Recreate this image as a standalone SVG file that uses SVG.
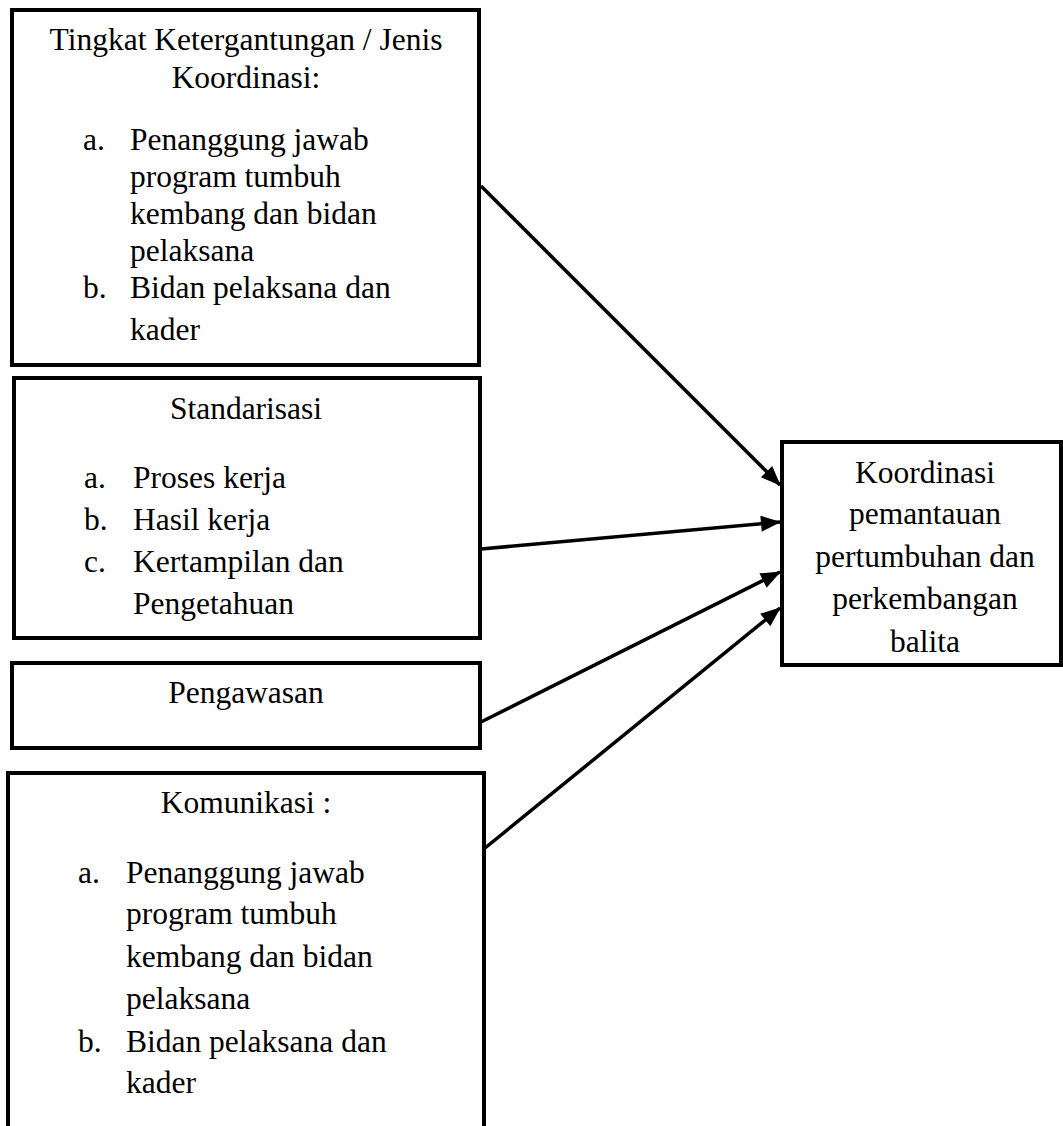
<svg xmlns="http://www.w3.org/2000/svg" width="1063" height="1126" viewBox="0 0 1063 1126">
<style>
.box{fill:#fff;stroke:#000;stroke-width:4}
text{font-family:"Liberation Serif","Times New Roman",serif;font-size:31.5px;fill:#000}
.c{text-anchor:middle}
.conn line{stroke:#000;stroke-width:3.5}
</style>
<defs>
<marker id="ah" viewBox="0 0 20 16" refX="19" refY="8" markerWidth="20" markerHeight="16" markerUnits="userSpaceOnUse" orient="auto" overflow="visible">
<path d="M0,0 L20,8 L0,16 z" fill="#000"/>
</marker>
</defs>
<rect width="1063" height="1126" fill="#fff"/>
<g id="n1">
<rect class="box" x="12" y="10" width="467" height="355"/>
<text class="c" x="246" y="50">Tingkat Ketergantungan / Jenis</text>
<text class="c" x="246" y="88">Koordinasi:</text>
<text x="83" y="150">a.</text><text x="130" y="150">Penanggung jawab</text>
<text x="130" y="187">program tumbuh</text>
<text x="130" y="224">kembang dan bidan</text>
<text x="130" y="261">pelaksana</text>
<text x="83" y="298">b.</text><text x="130" y="298">Bidan pelaksana dan</text>
<text x="130" y="340">kader</text>
</g>
<g id="n2">
<rect class="box" x="14" y="378" width="466" height="260"/>
<text class="c" x="246" y="419">Standarisasi</text>
<text x="84" y="488">a.</text><text x="133" y="488">Proses kerja</text>
<text x="84" y="530">b.</text><text x="133" y="530">Hasil kerja</text>
<text x="84" y="572">c.</text><text x="133" y="572">Kertampilan dan</text>
<text x="133" y="614">Pengetahuan</text>
</g>
<g id="n3">
<rect class="box" x="12" y="663" width="468" height="85"/>
<text class="c" x="246" y="703">Pengawasan</text>
</g>
<g id="n4">
<rect class="box" x="8" y="773" width="476" height="380"/>
<text class="c" x="246" y="813">Komunikasi :</text>
<text x="78" y="883">a.</text><text x="126" y="883">Penanggung jawab</text>
<text x="126" y="924">program tumbuh</text>
<text x="126" y="967">kembang dan bidan</text>
<text x="126" y="1009">pelaksana</text>
<text x="78" y="1052">b.</text><text x="126" y="1052">Bidan pelaksana dan</text>
<text x="126" y="1093">kader</text>
</g>
<g id="n5">
<rect class="box" x="782" y="442" width="279" height="223"/>
<text class="c" x="925" y="483">Koordinasi</text>
<text class="c" x="925" y="524">pemantauan</text>
<text class="c" x="925" y="567">pertumbuhan dan</text>
<text class="c" x="925" y="609">perkembangan</text>
<text class="c" x="925" y="652">balita</text>
</g>
<g id="connectors" class="conn">
<line x1="481" y1="186" x2="780" y2="485" marker-end="url(#ah)"/>
<line x1="481" y1="549" x2="780" y2="522" marker-end="url(#ah)"/>
<line x1="481" y1="722" x2="780" y2="572" marker-end="url(#ah)"/>
<line x1="485" y1="848" x2="780" y2="608" marker-end="url(#ah)"/>
</g>
</svg>
